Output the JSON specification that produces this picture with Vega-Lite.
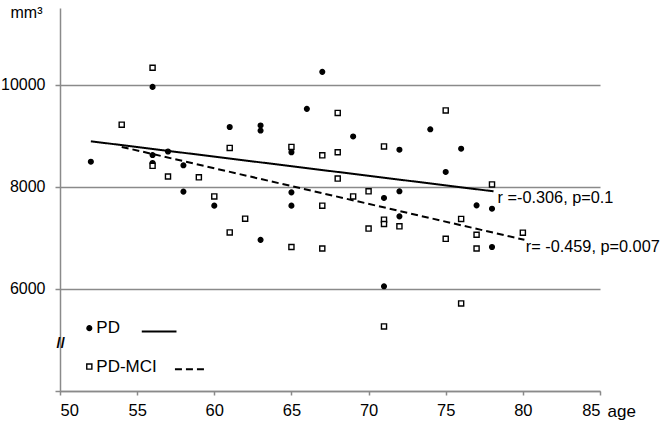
{
  "$schema": "https://vega.github.io/schema/vega-lite/v6.json",
  "width": 540,
  "height": 383,
  "autosize": {"type": "none"},
  "padding": {"left": 60, "top": 8, "right": 60, "bottom": 34},
  "background": "white",
  "config": {
    "view": {"stroke": null},
    "font": "Liberation Sans"
  },
  "datasets": {
    "points": [
      {"group": "PD", "age": 52, "vol": 8490},
      {"group": "PD", "age": 56, "vol": 9955},
      {"group": "PD", "age": 56, "vol": 8620},
      {"group": "PD", "age": 56, "vol": 8465},
      {"group": "PD", "age": 57, "vol": 8690},
      {"group": "PD", "age": 58, "vol": 8420},
      {"group": "PD", "age": 58, "vol": 7905},
      {"group": "PD", "age": 60, "vol": 7630},
      {"group": "PD", "age": 61, "vol": 9170},
      {"group": "PD", "age": 63, "vol": 9200},
      {"group": "PD", "age": 63, "vol": 9100},
      {"group": "PD", "age": 63, "vol": 6960},
      {"group": "PD", "age": 65, "vol": 8675},
      {"group": "PD", "age": 65, "vol": 7890},
      {"group": "PD", "age": 65, "vol": 7630},
      {"group": "PD", "age": 66, "vol": 9525},
      {"group": "PD", "age": 67, "vol": 10250},
      {"group": "PD", "age": 69, "vol": 8985},
      {"group": "PD", "age": 71, "vol": 7780},
      {"group": "PD", "age": 71, "vol": 6050},
      {"group": "PD", "age": 72, "vol": 8725},
      {"group": "PD", "age": 72, "vol": 7910},
      {"group": "PD", "age": 72, "vol": 7420},
      {"group": "PD", "age": 74, "vol": 9125},
      {"group": "PD", "age": 75, "vol": 8290},
      {"group": "PD", "age": 76, "vol": 8745},
      {"group": "PD", "age": 77, "vol": 7635},
      {"group": "PD", "age": 78, "vol": 7570},
      {"group": "PD", "age": 78, "vol": 6820},
      {"group": "PD-MCI", "age": 54, "vol": 9215},
      {"group": "PD-MCI", "age": 56, "vol": 10330},
      {"group": "PD-MCI", "age": 56, "vol": 8410},
      {"group": "PD-MCI", "age": 57, "vol": 8200},
      {"group": "PD-MCI", "age": 59, "vol": 8185},
      {"group": "PD-MCI", "age": 60, "vol": 7810},
      {"group": "PD-MCI", "age": 61, "vol": 8760},
      {"group": "PD-MCI", "age": 61, "vol": 7105},
      {"group": "PD-MCI", "age": 62, "vol": 7375},
      {"group": "PD-MCI", "age": 65, "vol": 8780},
      {"group": "PD-MCI", "age": 65, "vol": 6820},
      {"group": "PD-MCI", "age": 67, "vol": 8615},
      {"group": "PD-MCI", "age": 67, "vol": 7630},
      {"group": "PD-MCI", "age": 67, "vol": 6790},
      {"group": "PD-MCI", "age": 68, "vol": 9445},
      {"group": "PD-MCI", "age": 68, "vol": 8675},
      {"group": "PD-MCI", "age": 68, "vol": 8160},
      {"group": "PD-MCI", "age": 69, "vol": 7810},
      {"group": "PD-MCI", "age": 70, "vol": 7910},
      {"group": "PD-MCI", "age": 70, "vol": 7180},
      {"group": "PD-MCI", "age": 71, "vol": 8790},
      {"group": "PD-MCI", "age": 71, "vol": 7355},
      {"group": "PD-MCI", "age": 71, "vol": 7270},
      {"group": "PD-MCI", "age": 71, "vol": 5265},
      {"group": "PD-MCI", "age": 72, "vol": 7225},
      {"group": "PD-MCI", "age": 75, "vol": 9495},
      {"group": "PD-MCI", "age": 75, "vol": 6980},
      {"group": "PD-MCI", "age": 76, "vol": 7370},
      {"group": "PD-MCI", "age": 76, "vol": 5715},
      {"group": "PD-MCI", "age": 77, "vol": 7060},
      {"group": "PD-MCI", "age": 77, "vol": 6790},
      {"group": "PD-MCI", "age": 78, "vol": 8045},
      {"group": "PD-MCI", "age": 80, "vol": 7100}
    ],
    "lines": [
      {"series": "PD fit", "group": "PD", "age": 52, "vol": 8890},
      {"series": "PD fit", "group": "PD", "age": 78.1, "vol": 7910},
      {"series": "PD-MCI fit", "group": "PD-MCI", "age": 54, "vol": 8780},
      {"series": "PD-MCI fit", "group": "PD-MCI", "age": 80.1, "vol": 6960},
      {"series": "PD key", "group": "PD", "age": 55.3, "vol": 5165},
      {"series": "PD key", "group": "PD", "age": 57.55, "vol": 5165},
      {"series": "PD-MCI key", "group": "PD-MCI", "age": 57.45, "vol": 4428},
      {"series": "PD-MCI key", "group": "PD-MCI", "age": 59.5, "vol": 4428}
    ],
    "key": [
      {"group": "PD", "age": 51.9, "vol": 5231, "label": "PD"},
      {"group": "PD-MCI", "age": 51.9, "vol": 4479, "label": "PD-MCI"}
    ],
    "notes": [
      {"age": 78.36, "vol": 7779, "text": "r =-0.306, p=0.1"},
      {"age": 80.19, "vol": 6819, "text": "r= -0.459, p=0.007"}
    ],
    "brk": [
      {"age": 50.05, "vol": 4943, "text": "//"}
    ]
  },
  "encoding": {
    "x": {
      "field": "age", "type": "quantitative",
      "scale": {"domain": [50, 85], "nice": false, "zero": false},
      "axis": {
        "values": [50, 55, 60, 65, 70, 75, 80, 85],
        "domainColor": "#8a8a8a", "domainWidth": 1.5,
        "tickColor": "#8a8a8a", "tickWidth": 1.5,
        "labelFont": "Liberation Sans", "labelFontSize": 16.5, "labelColor": "#000",
        "titleFont": "Liberation Sans", "titleFontSize": 17, "titleColor": "#000", "titleFontWeight": "normal",
        "tickSize": 4, "labelPadding": 7, "grid": false,
        "title": "age", "titleAngle": 0, "titleAlign": "left", "titleBaseline": "middle",
        "titleX": 547, "titleY": 20
      }
    },
    "y": {
      "field": "vol", "type": "quantitative",
      "scale": {"domain": [4000, 11500], "nice": false, "zero": false},
      "axis": {
        "values": [4000, 6000, 8000, 10000],
        "labelExpr": "datum.value == 4000 ? '' : datum.value",
        "domainColor": "#8a8a8a", "domainWidth": 1.5,
        "tickColor": "#8a8a8a", "tickWidth": 1.5,
        "gridColor": "#8a8a8a", "gridWidth": 1.5,
        "labelFont": "Liberation Sans", "labelFontSize": 16, "labelColor": "#000",
        "titleFont": "Liberation Sans", "titleFontSize": 16, "titleColor": "#000", "titleFontWeight": "normal",
        "tickSize": 5, "labelPadding": 10, "grid": true,
        "title": "mm³", "titleAngle": 0, "titleAlign": "center", "titleBaseline": "middle",
        "titleX": -34, "titleY": 4
      }
    }
  },
  "layer": [
    {
      "data": {"name": "lines"},
      "mark": {"type": "line", "color": "#000", "strokeWidth": 2},
      "encoding": {
        "detail": {"field": "series"},
        "strokeDash": {"field": "group", "type": "nominal", "scale": {"domain": ["PD", "PD-MCI"], "range": [[1, 0], [7, 4]]}, "legend": null}
      }
    },
    {
      "data": {"name": "points"},
      "mark": {"type": "point", "filled": false, "strokeWidth": 1.4, "opacity": 1},
      "encoding": {
        "shape": {"field": "group", "type": "nominal", "scale": {"domain": ["PD", "PD-MCI"], "range": ["circle", "square"]}, "legend": null},
        "fill": {"field": "group", "type": "nominal", "scale": {"domain": ["PD", "PD-MCI"], "range": ["#000", "#fff"]}, "legend": null},
        "stroke": {"value": "#000"},
        "size": {"field": "group", "type": "nominal", "scale": {"domain": ["PD", "PD-MCI"], "range": [22, 26]}, "legend": null}
      }
    },
    {
      "data": {"name": "key"},
      "mark": {"type": "point", "filled": false, "strokeWidth": 1.4, "opacity": 1},
      "encoding": {
        "shape": {"field": "group", "type": "nominal", "scale": {"domain": ["PD", "PD-MCI"], "range": ["circle", "square"]}, "legend": null},
        "fill": {"field": "group", "type": "nominal", "scale": {"domain": ["PD", "PD-MCI"], "range": ["#000", "#fff"]}, "legend": null},
        "stroke": {"value": "#000"},
        "size": {"field": "group", "type": "nominal", "scale": {"domain": ["PD", "PD-MCI"], "range": [18, 22]}, "legend": null}
      }
    },
    {
      "data": {"name": "key"},
      "mark": {"type": "text", "align": "left", "baseline": "middle", "dx": 7, "fontSize": 17, "font": "Liberation Sans", "color": "#000"},
      "encoding": {"text": {"field": "label"}}
    },
    {
      "data": {"name": "notes"},
      "mark": {"type": "text", "align": "left", "baseline": "middle", "fontSize": 16.3, "font": "Liberation Sans", "color": "#000"},
      "encoding": {"text": {"field": "text"}}
    },
    {
      "data": {"name": "brk"},
      "mark": {"type": "text", "align": "center", "baseline": "middle", "fontSize": 15, "fontWeight": "bold", "font": "Liberation Sans", "color": "#000"},
      "encoding": {"text": {"field": "text"}}
    }
  ]
}
